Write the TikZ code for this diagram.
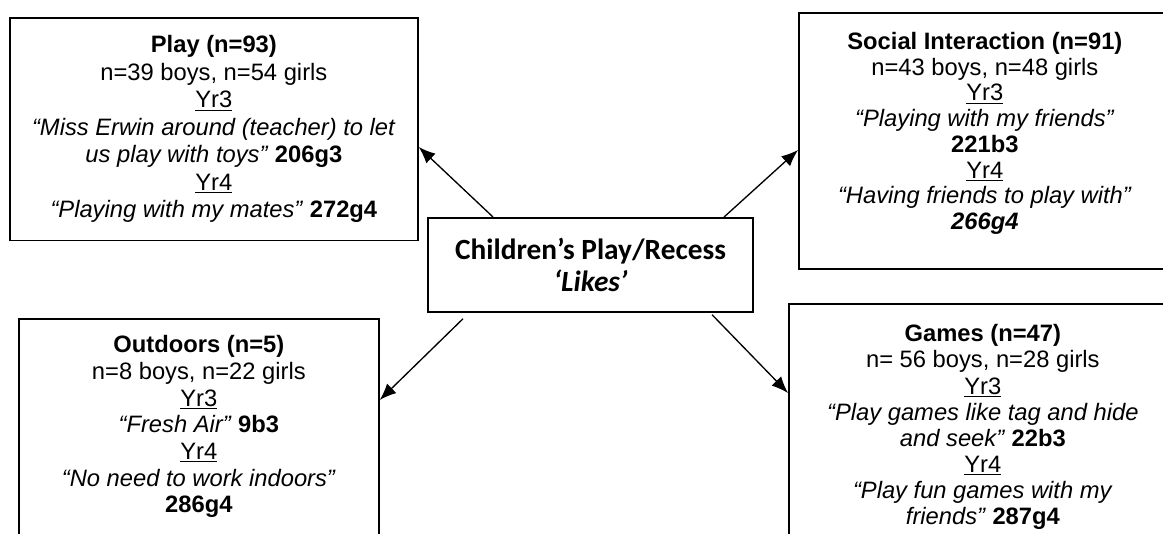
\documentclass[tikz,border=0pt]{standalone}
\usepackage{fontspec}
\setmainfont{Liberation Sans}
\newfontfamily\hubfont{Carlito}
\usetikzlibrary{arrows.meta,calc}
\begin{document}
\begin{tikzpicture}[x=0.75pt,y=-0.75pt]

    \tikzset{
      box/.style={
        draw,
        line width=1.3pt,
        rectangle,
        align=center,
        anchor=north west,
        inner sep=0pt,
        font=\fontsize{17.8pt}{20pt}\selectfont,
      },
      hub/.style={
        box,
        font=\hubfont\bfseries\fontsize{22pt}{24pt}\selectfont,
      },
      link/.style={
        line width=1pt,
        -{Latex[length=12.5pt,width=10pt]},
      },
    }
    \useasboundingbox (0,0) rectangle (1163,533);
    \clip (0,0) rectangle (1163,533);
	\node[box, minimum width=306pt, minimum height=167pt,
	  font=\fontsize{17.8pt}{20.6pt}\selectfont] (play) at (9,17)
	  {\textbf{Play (n=93)}\\ n=39 boys, n=54 girls\\ \underline{Yr3}\\
	   \textit{“Miss Erwin around (teacher) to let}\\
	   \textit{us play with toys”} \textbf{206g3}\\ \underline{Yr4}\\
	   \textit{“Playing with my mates”} \textbf{272g4}};
	\node[box, minimum width=279pt, minimum height=192pt,
	  font=\fontsize{17.8pt}{19.3pt}\selectfont] (social) at (798,12)
	  {\textbf{Social Interaction (n=91)}\\ n=43 boys, n=48 girls\\ \underline{Yr3}\\
	   \textit{“Playing with my friends”}\\ \textbf{221b3}\\ \underline{Yr4}\\
	   \textit{“Having friends to play with”}\\ \textbf{\textit{266g4}}\rule[-15pt]{0pt}{0pt}};
	\node[hub, minimum width=244pt, minimum height=70.5pt] (centre) at (427,217)
	  {Children’s Play/Recess\\ \textit{‘Likes’}};
	\node[box, minimum width=270pt, minimum height=166pt] (outdoors) at (18,318)
	  {\textbf{Outdoors (n=5)}\\ n=8 boys, n=22 girls\\ \underline{Yr3}\\
	   \textit{“Fresh Air”} \textbf{9b3}\\ \underline{Yr4}\\
	   \textit{“No need to work indoors”}\\ \textbf{286g4}\rule[-8pt]{0pt}{0pt}};
	\node[box, minimum width=291pt, minimum height=185pt,
	  font=\fontsize{17.8pt}{19.6pt}\selectfont] (games) at (788,303)
	  {\textbf{Games (n=47)}\\ n= 56 boys, n=28 girls\\ \underline{Yr3}\\
	   \textit{“Play games like tag and hide}\\ \textit{and seek”} \textbf{22b3}\\
	   \underline{Yr4}\\ \textit{“Play fun games with my}\\
	   \textit{friends”} \textbf{287g4}};

	\draw[link] ($(centre.north west)+(66,0)$) -- ($(play.north east)+(0,130)$);
	\draw[link] ($(centre.north east)+(-30,0)$) -- ($(social.north west)+(0,138)$);
	\draw[link] ($(centre.south west)+(36,6)$) -- ($(outdoors.north east)+(0,82)$);
	\draw[link] ($(centre.south east)+(-42,2)$) -- ($(games.north west)+(0,90)$);

\end{tikzpicture}
\end{document}
